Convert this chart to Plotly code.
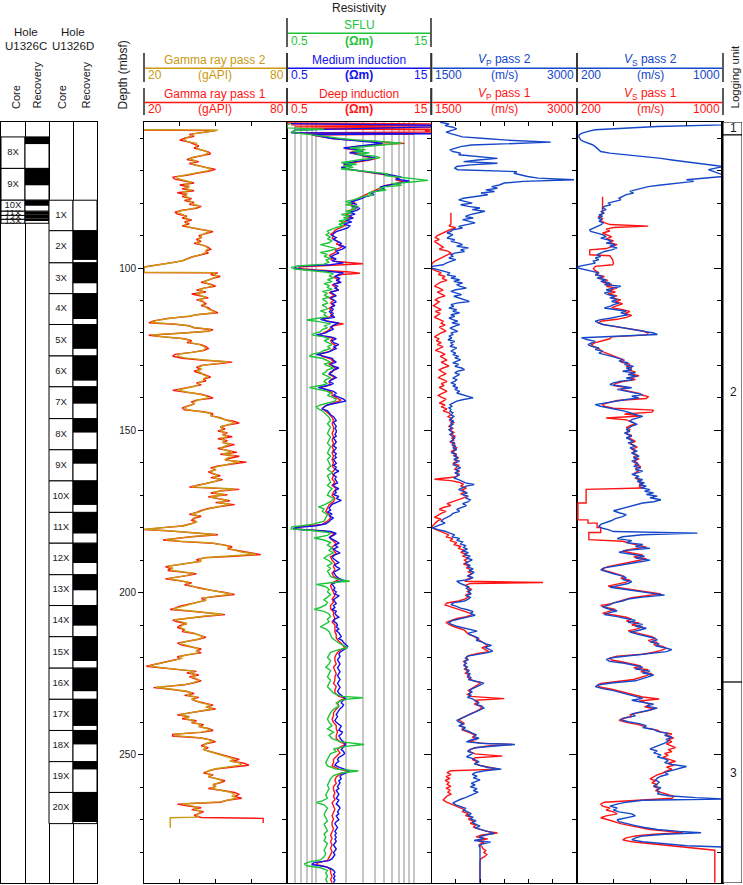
import plotly.graph_objects as go

# ---------------- DATA ----------------
DEPTH_RANGE = [289.5, 55]          # mbsf, top of log = 55, bottom = 289.5

# Hole U1326C cores: name, top, bottom (mbsf)
CORE_C_NAMES = ["8X", "9X", "10X", "11X", "12X", "13X"]
CORE_C_TOP = [59.6, 69.3, 79.1, 82.5, 83.8, 85.0]
CORE_C_BOT = [69.3, 79.1, 82.5, 83.8, 85.0, 86.2]
REC_C_TOP = [59.6, 69.3, 79.1, 82.6, 83.8, 85.0]
REC_C_BOT = [61.8, 74.5, 80.8, 83.6, 84.8, 85.4]

# Hole U1326D cores
CORE_D_NAMES = ["1X", "2X", "3X", "4X", "5X", "6X", "7X", "8X", "9X", "10X",
                "11X", "12X", "13X", "14X", "15X", "16X", "17X", "18X", "19X", "20X"]
CORE_D_TOP = [79.1, 88.5, 98.4, 107.9, 117.4, 127.1, 136.6, 146.4, 156.0, 165.6,
              175.3, 184.8, 194.5, 204.0, 213.6, 223.3, 232.9, 242.5, 252.1, 261.6]
CORE_D_BOT = [88.5, 98.4, 107.9, 117.4, 127.1, 136.6, 146.4, 156.0, 165.6, 175.3,
              184.8, 194.5, 204.0, 213.6, 223.3, 232.9, 242.5, 252.1, 261.6, 271.2]
REC_D_BOT = [79.1, 97.5, 104.7, 115.7, 124.9, 134.7, 141.8, 150.7, 160.3, 173.0,
             181.8, 190.9, 199.3, 210.2, 221.1, 230.4, 241.1, 246.8, 254.5, 270.7]

# Logging units
UNIT_NAMES = ["1", "2", "3"]
UNIT_TOP = [55.0, 59.0, 227.6]
UNIT_BOT = [59.0, 227.6, 289.5]
UNIT_LABEL_DEPTH = [57.0, 138.5, 256.0]

# Gamma ray (gAPI) : (depth, value)
GR_PASS1 = [(57.5,20),(57.6,50),(58.2,45),(58.8,39),(59.4,41),(60.0,37),(60.6,35),(61.2,39),(61.8,41),(62.4,43),(63.0,41),(63.6,44),(64.2,47),(64.8,48),(65.4,44),(66.0,40),(66.6,38),(67.2,43),(67.8,39),(68.4,42),(69.0,46),(69.6,50),(70.2,47),(70.8,42),(71.4,38),(72.0,32),(72.6,33),(73.2,37),(73.8,41),(74.4,35),(75.0,39),(75.6,36),(76.2,41),(76.8,34),(77.4,38),(78.0,36),(78.6,40),(79.2,37),(79.8,41),(80.4,39),(81.0,44),(81.6,42),(82.2,36),(82.8,33),(83.4,34),(84.0,38),(84.6,36),(85.2,40),(85.8,37),(86.4,39),(87.0,36),(87.6,40),(88.2,44),(88.8,49),(89.4,46),(90.0,43),(90.6,44),(91.2,42),(91.8,44),(92.4,41),(93.0,45),(93.6,47),(94.2,48),(94.8,46),(95.4,47),(96.0,43),(96.6,40),(97.2,38),(97.8,36),(98.4,31),(99.0,25),(99.7,20),(101.4,20),(101.5,51),(102.0,48),(102.6,52),(103.2,49),(103.8,46),(104.4,44),(105.0,48),(105.6,50),(106.2,45),(106.8,42),(107.4,46),(108.0,40),(108.6,44),(109.2,47),(109.8,42),(110.4,45),(111.0,46),(111.6,44),(112.2,47),(112.8,48),(113.4,50),(113.8,51),(114.4,42),(114.9,39),(115.5,30),(116.3,24),(116.9,22),(117.3,33),(117.8,39),(118.4,41),(119.0,49),(119.5,47),(120.1,35),(120.7,22),(121.2,28),(121.8,37),(122.4,40),(123.0,38),(123.6,44),(124.2,46),(124.8,47),(125.4,45),(126.0,40),(126.6,33),(127.2,32),(127.8,36),(128.4,45),(129.0,57),(129.4,52),(130.0,44),(130.6,42),(131.2,44),(131.8,41),(132.4,44),(133.0,46),(133.6,48),(134.2,45),(134.8,46),(135.4,42),(136.0,44),(136.6,40),(137.2,36),(137.7,32),(138.3,38),(138.9,44),(139.5,47),(140.1,49),(140.7,42),(141.3,40),(141.9,41),(142.5,38),(143.1,36),(143.7,37),(144.3,45),(144.9,49),(145.5,48),(146.1,52),(146.7,54),(147.3,58),(147.8,60),(148.4,55),(149.0,52),(149.6,54),(150.2,51),(150.8,55),(151.4,53),(152.0,57),(152.6,51),(153.2,55),(153.8,53),(154.4,58),(155.0,54),(155.6,51),(156.2,55),(156.8,59),(157.4,52),(158.0,60),(158.6,56),(159.2,54),(159.8,63),(160.4,56),(161.0,51),(161.6,48),(162.2,50),(162.8,47),(163.4,49),(164.0,52),(164.6,48),(165.2,53),(165.8,50),(166.4,46),(167.0,42),(167.5,39),(168.2,60),(168.7,52),(169.3,48),(169.9,55),(170.5,47),(171.1,52),(171.7,56),(172.3,50),(172.9,58),(173.5,52),(174.1,47),(174.7,44),(175.3,42),(175.9,39),(176.5,44),(177.1,41),(177.7,40),(178.3,42),(178.9,39),(179.5,36),(180.0,28),(180.6,20),(181.0,30),(181.7,45),(182.2,51),(182.8,40),(183.4,32),(183.8,28),(184.3,36),(184.8,49),(185.4,54),(185.9,57),(186.5,55),(187.0,59),(187.6,62),(188.3,69),(188.8,58),(189.3,45),(189.9,42),(190.4,44),(191.0,38),(191.5,33),(192.0,29),(192.6,31),(193.2,30),(193.7,36),(194.2,42),(194.8,38),(195.3,33),(195.8,29),(196.4,35),(197.0,40),(197.6,37),(198.2,41),(198.8,44),(199.4,49),(200.0,54),(200.6,58),(201.2,50),(201.8,44),(202.4,46),(203.0,42),(203.6,38),(204.2,35),(204.8,33),(205.2,31),(205.8,40),(206.3,48),(206.8,54),(207.4,45),(208.0,37),(208.5,32),(209.0,34),(209.6,38),(210.2,35),(210.8,34),(211.4,37),(212.0,36),(212.6,41),(213.2,44),(213.8,46),(214.4,43),(215.0,38),(215.6,34),(216.2,36),(216.8,40),(217.4,44),(218.0,42),(218.6,44),(219.2,38),(219.8,34),(220.4,35),(221.0,31),(221.6,27),(222.2,23),(222.7,21),(223.2,27),(223.8,34),(224.3,42),(224.8,38),(225.4,43),(226.0,39),(226.6,42),(227.2,44),(227.8,41),(228.4,37),(228.9,30),(229.3,24),(229.9,32),(230.5,38),(231.1,41),(231.7,37),(232.3,43),(232.9,40),(233.5,42),(234.1,45),(234.7,49),(235.3,46),(235.9,50),(236.5,44),(237.1,38),(237.7,34),(238.3,39),(238.9,36),(239.5,42),(240.1,40),(240.7,45),(241.3,43),(241.9,47),(242.5,49),(243.1,44),(243.7,32),(244.2,32),(244.8,44),(245.4,48),(246.0,50),(246.6,46),(247.2,44),(247.8,47),(248.4,45),(249.0,48),(249.6,51),(250.2,55),(250.8,58),(251.4,60),(252.0,57),(252.6,62),(253.2,64),(253.8,56),(254.4,50),(255.0,47),(255.6,45),(256.2,49),(256.8,47),(257.4,51),(258.0,54),(258.6,52),(259.2,49),(259.8,50),(260.4,47),(261.0,53),(261.6,58),(262.2,60),(262.8,58),(263.4,61),(264.0,55),(264.6,52),(265.2,34),(265.7,38),(266.3,44),(266.9,40),(267.5,45),(268.1,43),(268.7,41),(269.3,44),(269.6,70),(271.0,70)]

GR_PASS2 = [(57.4,20),(57.5,51),(58.0,47),(58.6,41),(59.2,40),(59.8,38),(60.4,37),(61.0,38),(61.6,42),(62.2,42),(62.8,42),(63.4,43),(64.0,46),(64.6,47),(65.2,45),(65.8,41),(66.4,39),(67.0,42),(67.6,40),(68.2,41),(68.8,45),(69.4,48),(70.0,47),(70.6,43),(71.2,39),(71.8,34),(72.4,34),(73.0,37),(73.6,40),(74.2,37),(74.8,39),(75.4,37),(76.0,40),(76.6,36),(77.2,38),(77.8,37),(78.4,39),(79.0,38),(79.6,40),(80.2,40),(80.8,43),(81.4,42),(82.0,38),(82.6,34),(83.2,35),(83.8,37),(84.4,37),(85.0,39),(85.6,38),(86.2,38),(86.8,37),(87.4,39),(88.0,43),(88.6,48),(89.2,46),(89.8,44),(90.4,44),(91.0,43),(91.6,43),(92.2,42),(92.8,44),(93.4,46),(94.0,47),(94.6,46),(95.2,46),(95.8,44),(96.4,41),(97.0,39),(97.6,37),(98.2,33),(98.8,27),(99.5,21),(99.7,20),(101.3,20),(101.4,50),(101.9,49),(102.5,51),(103.1,49),(103.7,47),(104.3,45),(104.9,47),(105.5,49),(106.1,46),(106.7,43),(107.3,45),(107.9,42),(108.5,44),(109.1,46),(109.7,43),(110.3,45),(110.9,45),(111.5,45),(112.1,46),(112.7,47),(113.3,49),(113.7,50),(114.3,43),(114.8,39),(115.4,32),(116.2,25),(116.8,23),(117.2,32),(117.7,38),(118.3,41),(118.9,48),(119.4,47),(120.0,37),(120.6,23),(121.1,27),(121.7,36),(122.3,39),(122.9,39),(123.5,43),(124.1,45),(124.7,46),(125.3,45),(125.9,41),(126.5,35),(127.1,34),(127.7,37),(128.3,45),(128.9,55),(129.3,52),(129.9,45),(130.5,43),(131.1,44),(131.7,42),(132.3,44),(132.9,45),(133.5,47),(134.1,45),(134.7,45),(135.3,43),(135.9,43),(136.5,41),(137.1,37),(137.6,34),(138.2,38),(138.8,43),(139.4,46),(140.0,47),(140.6,43),(141.2,41),(141.8,41),(142.4,39),(143.0,37),(143.6,38),(144.2,44),(144.8,48),(145.4,48),(146.0,51),(146.6,53),(147.2,56),(147.7,58),(148.3,55),(148.9,52),(149.5,53),(150.1,52),(150.7,54),(151.3,53),(151.9,55),(152.5,52),(153.1,54),(153.7,53),(154.3,56),(154.9,54),(155.5,52),(156.1,54),(156.7,57),(157.3,53),(157.9,58),(158.5,55),(159.1,54),(159.7,60),(160.3,56),(160.9,52),(161.5,49),(162.1,50),(162.7,48),(163.3,49),(163.9,51),(164.5,49),(165.1,52),(165.7,50),(166.3,47),(166.9,43),(167.4,40),(168.1,58),(168.6,53),(169.2,49),(169.8,54),(170.4,48),(171.0,51),(171.6,55),(172.2,51),(172.8,56),(173.4,52),(174.0,48),(174.6,45),(175.2,43),(175.8,40),(176.4,43),(177.0,41),(177.6,41),(178.2,42),(178.8,40),(179.4,37),(179.9,29),(180.5,20),(180.9,29),(181.6,44),(182.1,50),(182.7,41),(183.3,33),(183.7,29),(184.2,35),(184.7,48),(185.3,53),(185.8,56),(186.4,55),(186.9,58),(187.5,61),(188.2,67),(188.7,58),(189.2,46),(189.8,43),(190.3,44),(190.9,39),(191.4,34),(191.9,30),(192.5,32),(193.1,31),(193.6,36),(194.1,41),(194.7,38),(195.2,34),(195.7,30),(196.3,35),(196.9,39),(197.5,38),(198.1,41),(198.7,43),(199.3,48),(199.9,53),(200.5,57),(201.1,50),(201.7,45),(202.3,46),(202.9,43),(203.5,39),(204.1,36),(204.7,34),(205.1,32),(205.7,40),(206.2,47),(206.7,53),(207.3,45),(207.9,38),(208.4,33),(208.9,35),(209.5,38),(210.1,36),(210.7,35),(211.3,37),(211.9,37),(212.5,41),(213.1,43),(213.7,45),(214.3,43),(214.9,39),(215.5,35),(216.1,37),(216.7,40),(217.3,43),(217.9,42),(218.5,43),(219.1,39),(219.7,35),(220.3,36),(220.9,32),(221.5,28),(222.1,24),(222.6,22),(223.1,27),(223.7,34),(224.2,41),(224.7,39),(225.3,42),(225.9,40),(226.5,42),(227.1,43),(227.7,41),(228.3,38),(228.8,31),(229.2,25),(229.8,32),(230.4,38),(231.0,40),(231.6,38),(232.2,42),(232.8,40),(233.4,42),(234.0,44),(234.6,48),(235.2,46),(235.8,49),(236.4,44),(237.0,39),(237.6,35),(238.2,39),(238.8,37),(239.4,41),(240.0,40),(240.6,44),(241.2,43),(241.8,46),(242.4,48),(243.0,44),(243.6,33),(244.1,33),(244.7,43),(245.3,47),(245.9,49),(246.5,46),(247.1,45),(247.7,46),(248.3,45),(248.9,47),(249.5,50),(250.1,53),(250.7,56),(251.3,58),(251.9,56),(252.5,60),(253.1,61),(253.7,55),(254.3,50),(254.9,47),(255.5,46),(256.1,48),(256.7,47),(257.3,50),(257.9,53),(258.5,52),(259.1,49),(259.7,50),(260.3,48),(260.9,52),(261.5,56),(262.1,58),(262.7,57),(263.3,59),(263.9,55),(264.5,52),(265.1,36),(265.6,39),(266.2,43),(266.8,41),(267.4,44),(268.0,43),(268.6,42),(269.2,43),(269.4,31),(272.5,31)]

# Resistivity (Ohm m)
RES_DEEP = [(55.3,0.5),(55.6,15),(55.9,0.55),(56.2,15),(56.5,0.6),(56.8,15),(57.1,0.7),(57.4,15),(57.8,13),(58.1,15),(58.4,0.6),(58.7,10),(59.0,0.9),(59.6,1.2),(60.2,1.5),(60.8,3.0),(61.2,5.5),(61.6,8.0),(62.0,4.0),(62.6,2.4),(63.2,2.0),(63.8,2.8),(64.4,2.2),(65.0,3.0),(65.6,3.0),(66.2,4.2),(66.8,3.4),(67.4,2.4),(68.0,1.9),(68.6,2.1),(69.2,1.8),(69.8,2.4),(70.4,3.4),(71.0,4.8),(71.6,6.0),(72.2,7.0),(72.8,6.5),(73.4,8.0),(74.0,6.0),(74.6,5.0),(75.2,4.6),(75.8,4.2),(76.4,3.8),(77.0,3.5),(77.6,3.1),(78.2,2.8),(78.8,2.6),(79.4,2.3),(80.0,2.5),(80.6,2.2),(81.2,2.6),(81.8,2.5),(82.4,2.1),(83.0,2.3),(83.6,2.0),(84.2,2.3),(84.8,2.0),(85.4,2.1),(86.0,1.8),(86.6,2.0),(87.2,1.9),(87.8,1.7),(88.4,1.55),(89.0,1.5),(89.6,1.4),(90.2,1.5),(90.8,1.45),(91.4,1.55),(92.0,1.7),(92.6,1.6),(93.2,1.9),(93.8,1.75),(94.4,1.55),(95.0,1.6),(95.6,1.45),(96.2,1.35),(96.8,1.5),(97.4,1.4),(98.0,1.6),(98.7,3.0),(99.2,1.3),(99.6,0.7),(100.1,0.65),(100.6,1.0),(101.2,2.2),(101.6,2.8),(102.0,1.8),(102.8,1.5),(103.6,1.7),(104.4,1.7),(105.2,1.45),(106.0,1.6),(106.8,1.65),(107.6,1.35),(108.4,1.55),(109.2,1.35),(110.0,1.5),(110.8,1.4),(111.6,1.5),(112.4,1.35),(113.2,1.45),(114.0,1.4),(114.8,1.5),(115.6,1.15),(116.4,1.3),(117.2,1.9),(117.8,1.5),(118.6,1.4),(119.4,1.3),(120.2,1.15),(120.8,1.05),(121.6,1.5),(122.4,1.4),(123.2,1.45),(124.0,1.6),(124.8,1.5),(125.6,1.4),(126.4,1.1),(127.2,1.15),(128.0,1.4),(128.8,1.5),(129.6,1.35),(130.4,1.5),(131.2,1.6),(132.0,1.4),(132.8,1.35),(133.6,1.55),(134.4,1.4),(135.2,1.35),(136.0,1.4),(136.8,1.1),(137.6,1.3),(138.4,1.45),(139.2,1.45),(140.0,1.6),(140.8,1.8),(141.6,1.5),(142.4,1.25),(143.2,1.15),(144.0,1.25),(145.0,1.35),(146.0,1.45),(147.0,1.5),(148.0,1.45),(149.0,1.5),(150.0,1.5),(151.0,1.45),(152.0,1.5),(153.0,1.45),(154.0,1.5),(155.0,1.45),(156.0,1.5),(157.0,1.45),(158.0,1.5),(159.0,1.45),(160.0,1.5),(161.0,1.45),(162.0,1.55),(163.0,1.45),(164.0,1.5),(165.0,1.45),(166.0,1.55),(167.0,1.45),(168.0,1.6),(169.0,1.5),(170.0,1.45),(171.0,1.55),(172.0,1.5),(173.0,1.35),(174.0,1.3),(175.0,1.25),(176.0,1.35),(177.0,1.4),(178.0,1.3),(179.0,1.15),(179.8,0.65),(180.4,0.6),(181.0,1.2),(181.8,1.55),(182.6,1.4),(183.4,1.4),(184.2,1.5),(185.0,1.6),(186.0,1.45),(187.0,1.5),(188.0,1.6),(189.0,1.4),(190.0,1.45),(191.0,1.55),(192.0,1.5),(193.0,1.55),(194.0,1.45),(195.0,1.5),(196.0,1.7),(197.0,1.45),(198.0,1.4),(199.0,1.45),(200.0,1.5),(201.0,1.55),(202.0,1.45),(203.0,1.5),(204.0,1.4),(205.0,1.4),(206.0,1.5),(207.0,1.5),(208.0,1.55),(209.0,1.45),(210.0,1.55),(211.0,1.55),(212.0,1.55),(213.0,1.6),(214.0,1.6),(215.0,1.7),(216.0,1.85),(217.0,1.95),(218.0,1.7),(219.0,1.6),(220.0,1.55),(221.0,1.55),(222.0,1.6),(223.0,1.5),(224.0,1.55),(225.0,1.6),(226.0,1.55),(227.0,1.55),(228.0,1.5),(229.0,1.6),(230.0,1.55),(231.0,1.55),(232.0,1.7),(232.6,2.0),(233.2,1.75),(234.0,1.65),(235.0,1.7),(236.0,1.6),(237.0,1.5),(238.0,1.5),(239.0,1.45),(240.0,1.5),(241.0,1.6),(242.0,1.6),(243.0,1.65),(244.0,1.6),(245.0,1.6),(246.0,1.75),(246.8,2.0),(247.6,1.75),(248.4,1.65),(249.4,1.75),(250.4,1.6),(251.4,1.5),(252.4,1.5),(253.4,1.45),(254.4,1.7),(255.0,2.1),(255.8,1.8),(256.8,1.6),(257.8,1.55),(258.8,1.6),(259.8,1.5),(260.8,1.5),(261.8,1.55),(262.8,1.5),(263.8,1.55),(264.8,1.45),(265.8,1.5),(266.8,1.55),(267.8,1.5),(268.8,1.45),(269.8,1.5),(270.8,1.45),(271.8,1.45),(272.8,1.5),(273.8,1.45),(274.8,1.4),(275.8,1.45),(276.8,1.4),(277.8,1.45),(278.8,1.4),(279.8,1.45),(280.8,1.4),(281.8,1.35),(282.6,1.3),(283.2,1.05),(283.8,1.0),(284.6,1.3),(285.4,1.4),(286.4,1.4),(287.4,1.45),(288.4,1.4),(289.4,1.45)]

RES_MEDIUM = [(55.5,0.55),(56.0,15),(56.5,15),(57.0,2),(57.5,0.6),(58.3,0.55),(58.6,15),(58.9,0.9),(59.5,1.1),(60.0,1.4),(60.5,2.0),(61.0,3.4),(61.5,4.8),(62.0,3.6),(62.5,2.6),(63.0,1.9),(63.5,2.6),(64.0,3.0),(64.5,2.2),(65.0,2.8),(65.5,3.2),(66.0,4.0),(66.6,3.6),(67.2,2.5),(67.8,1.9),(68.4,2.3),(69.0,1.8),(69.6,2.2),(70.2,3.2),(70.8,4.5),(71.4,6.0),(72.0,7.5),(72.6,6.5),(73.2,9.0),(73.8,7.0),(74.4,5.5),(75.0,4.5),(75.6,5.0),(76.2,4.2),(76.8,3.6),(77.4,3.9),(78.0,3.2),(78.6,2.9),(79.2,2.5),(79.8,2.2),(80.4,2.6),(81.0,2.3),(81.6,2.8),(82.2,2.6),(82.8,2.2),(83.4,2.5),(84.0,2.1),(84.6,2.4),(85.2,2.0),(85.8,2.3),(86.4,1.9),(87.0,2.2),(87.6,2.1),(88.2,1.8),(88.8,1.6),(89.4,1.5),(90.0,1.45),(90.6,1.6),(91.2,1.5),(91.8,1.65),(92.4,1.8),(93.0,1.7),(93.6,2.0),(94.2,1.85),(94.8,1.6),(95.4,1.7),(96.0,1.5),(96.6,1.4),(97.2,1.6),(97.8,1.45),(98.4,1.9),(99.0,1.4),(99.5,0.62),(100.0,0.6),(100.5,0.75),(101.0,1.3),(101.5,1.9),(102.0,1.7),(102.6,1.55),(103.2,1.75),(103.8,1.6),(104.4,1.8),(105.0,1.5),(105.6,1.65),(106.2,1.55),(106.8,1.7),(107.4,1.4),(108.0,1.5),(108.6,1.6),(109.2,1.4),(109.8,1.5),(110.4,1.6),(111.0,1.45),(111.6,1.55),(112.2,1.4),(112.8,1.5),(113.4,1.35),(114.0,1.5),(114.6,1.4),(115.2,1.55),(115.8,1.1),(116.4,1.3),(117.0,1.7),(117.6,1.5),(118.2,1.4),(118.8,1.5),(119.4,1.35),(120.0,1.25),(120.6,1.0),(121.2,1.4),(121.8,1.6),(122.4,1.45),(123.0,1.5),(123.6,1.7),(124.2,1.5),(124.8,1.6),(125.4,1.45),(126.0,1.3),(126.6,1.0),(127.2,1.2),(127.8,1.45),(128.4,1.5),(129.0,1.6),(129.6,1.4),(130.2,1.5),(130.8,1.7),(131.4,1.5),(132.0,1.45),(132.6,1.35),(133.2,1.5),(133.8,1.6),(134.4,1.45),(135.0,1.35),(135.6,1.5),(136.2,1.3),(136.8,1.05),(137.4,1.3),(138.0,1.5),(138.6,1.6),(139.2,1.5),(139.8,1.7),(140.4,1.9),(141.0,2.0),(141.6,1.6),(142.2,1.3),(142.8,1.2),(143.4,1.15),(144.0,1.3),(144.6,1.35),(145.2,1.4),(145.8,1.5),(146.4,1.55),(147.0,1.6),(147.6,1.5),(148.2,1.55),(148.8,1.6),(149.4,1.55),(150.0,1.6),(150.6,1.6),(151.2,1.55),(151.8,1.6),(152.4,1.5),(153.0,1.55),(153.6,1.6),(154.2,1.55),(154.8,1.5),(155.4,1.6),(156.0,1.55),(156.6,1.5),(157.2,1.6),(157.8,1.55),(158.4,1.6),(159.0,1.5),(159.6,1.55),(160.2,1.6),(160.8,1.5),(161.4,1.6),(162.0,1.55),(162.6,1.7),(163.2,1.55),(163.8,1.5),(164.4,1.6),(165.0,1.55),(165.6,1.6),(166.2,1.65),(166.8,1.5),(167.4,1.55),(168.0,1.7),(168.6,1.55),(169.2,1.6),(169.8,1.5),(170.4,1.7),(171.0,1.6),(171.6,1.8),(172.2,1.6),(172.8,1.45),(173.4,1.4),(174.0,1.35),(174.6,1.4),(175.2,1.3),(175.8,1.45),(176.4,1.35),(177.0,1.5),(177.6,1.4),(178.2,1.35),(178.8,1.25),(179.4,1.0),(180.0,0.6),(180.4,0.58),(180.8,1.0),(181.2,1.4),(181.8,1.6),(182.4,1.5),(183.0,1.35),(183.6,1.5),(184.2,1.6),(184.8,1.7),(185.4,1.55),(186.0,1.65),(186.6,1.5),(187.2,1.6),(187.8,1.75),(188.4,1.55),(189.0,1.45),(189.6,1.5),(190.2,1.6),(190.8,1.7),(191.4,1.55),(192.0,1.6),(192.6,1.75),(193.2,1.6),(193.8,1.5),(194.4,1.55),(195.0,1.6),(195.6,1.7),(196.2,1.9),(196.8,1.6),(197.4,1.45),(198.0,1.5),(198.6,1.55),(199.2,1.5),(199.8,1.6),(200.4,1.55),(201.0,1.7),(201.6,1.6),(202.2,1.5),(202.8,1.55),(203.4,1.6),(204.0,1.5),(204.6,1.55),(205.2,1.45),(205.8,1.6),(206.4,1.55),(207.0,1.6),(207.6,1.7),(208.2,1.55),(208.8,1.5),(209.4,1.6),(210.0,1.65),(210.6,1.6),(211.2,1.7),(211.8,1.6),(212.4,1.7),(213.0,1.75),(213.6,1.8),(214.2,1.7),(214.8,1.85),(215.4,1.9),(216.0,2.0),(216.6,2.1),(217.2,2.0),(217.8,1.85),(218.4,1.75),(219.0,1.7),(219.6,1.75),(220.2,1.7),(220.8,1.65),(221.4,1.7),(222.0,1.75),(222.6,1.7),(223.2,1.65),(223.8,1.7),(224.4,1.75),(225.0,1.7),(225.6,1.65),(226.2,1.7),(226.8,1.75),(227.4,1.7),(228.0,1.65),(228.6,1.7),(229.2,1.75),(229.8,1.7),(230.4,1.65),(231.0,1.7),(231.6,1.8),(232.2,1.9),(232.8,2.0),(233.4,1.85),(234.0,1.8),(234.6,1.9),(235.2,1.85),(235.8,1.75),(236.4,1.7),(237.0,1.65),(237.6,1.6),(238.2,1.65),(238.8,1.6),(239.4,1.55),(240.0,1.6),(240.6,1.7),(241.2,1.8),(241.8,1.75),(242.4,1.7),(243.0,1.85),(243.6,1.8),(244.2,1.7),(244.8,1.75),(245.4,1.8),(246.0,1.9),(246.6,2.0),(247.2,1.95),(247.8,1.85),(248.4,1.8),(249.0,1.9),(249.6,1.95),(250.2,1.85),(250.8,1.7),(251.4,1.65),(252.0,1.7),(252.6,1.6),(253.2,1.55),(253.8,1.7),(254.4,1.9),(255.0,2.2),(255.6,2.0),(256.2,1.8),(256.8,1.75),(257.4,1.8),(258.0,1.7),(258.6,1.75),(259.2,1.7),(259.8,1.65),(260.4,1.7),(261.0,1.6),(261.6,1.65),(262.2,1.7),(262.8,1.65),(263.4,1.6),(264.0,1.7),(264.6,1.65),(265.2,1.6),(265.8,1.7),(266.4,1.75),(267.0,1.7),(267.6,1.65),(268.2,1.7),(268.8,1.6),(269.4,1.65),(270.0,1.7),(270.6,1.6),(271.2,1.55),(271.8,1.6),(272.4,1.65),(273.0,1.6),(273.6,1.55),(274.2,1.6),(274.8,1.55),(275.4,1.6),(276.0,1.55),(276.6,1.6),(277.2,1.55),(277.8,1.5),(278.4,1.55),(279.0,1.6),(279.6,1.55),(280.2,1.5),(280.8,1.55),(281.4,1.5),(282.0,1.45),(282.6,1.35),(283.2,0.95),(283.8,0.9),(284.4,1.2),(285.0,1.4),(285.6,1.5),(286.2,1.55),(286.8,1.5),(287.4,1.55),(288.0,1.5),(288.6,1.55),(289.4,1.5)]

RES_SFLU = [(55.5,0.55),(55.8,0.5),(56.8,0.5),(57.2,1.2),(57.6,0.6),(58.2,0.55),(58.6,0.7),(59.0,1.0),(59.5,1.3),(60.0,1.7),(60.5,2.5),(61.0,4.5),(61.5,7.5),(62.0,5.0),(62.5,3.0),(63.0,2.2),(63.5,3.2),(64.0,2.4),(64.5,3.5),(65.0,2.6),(65.5,4.0),(66.0,4.5),(66.5,3.0),(67.0,2.2),(67.5,1.8),(68.0,2.6),(68.5,1.9),(69.0,2.4),(69.5,1.8),(70.0,2.8),(70.5,4.0),(71.0,5.5),(71.5,5.0),(72.0,7.0),(72.5,9.0),(73.0,14.0),(73.5,9.5),(74.0,6.0),(74.5,7.5),(75.0,5.0),(75.5,4.4),(76.0,5.2),(76.5,3.8),(77.0,3.4),(77.5,3.8),(78.0,3.0),(78.5,2.7),(79.0,2.4),(79.5,2.0),(80.0,2.3),(80.5,2.0),(81.0,2.7),(81.5,2.3),(82.0,2.5),(82.5,2.0),(83.0,2.3),(83.5,1.8),(84.0,2.2),(84.5,1.9),(85.0,2.1),(85.5,1.7),(86.0,2.0),(86.5,1.7),(87.0,1.9),(87.5,1.6),(88.0,1.45),(88.6,1.3),(89.2,1.35),(89.8,1.25),(90.4,1.4),(91.0,1.3),(91.6,1.45),(92.2,1.35),(92.8,1.1),(93.4,1.3),(94.0,1.6),(94.6,1.4),(95.2,1.1),(95.8,1.3),(96.4,1.2),(97.0,1.4),(97.6,1.25),(98.2,1.35),(98.8,1.2),(99.3,0.7),(99.8,0.55),(100.3,0.6),(100.8,0.9),(101.3,1.3),(101.8,1.5),(102.4,1.35),(103.0,1.5),(103.6,1.3),(104.2,1.45),(104.8,1.2),(105.4,1.35),(106.0,1.3),(106.6,1.45),(107.2,1.15),(107.8,1.3),(108.4,1.2),(109.0,1.35),(109.6,1.15),(110.2,1.25),(110.8,1.3),(111.4,1.15),(112.0,1.25),(112.6,1.3),(113.2,1.1),(113.8,1.25),(114.4,1.2),(115.0,1.3),(115.6,0.95),(116.0,0.8),(116.6,1.1),(117.2,1.4),(117.8,1.2),(118.4,1.3),(119.0,1.15),(119.6,1.1),(120.2,0.95),(120.6,0.9),(121.2,1.2),(121.8,1.35),(122.4,1.2),(123.0,1.3),(123.6,1.45),(124.2,1.3),(124.8,1.4),(125.4,1.2),(126.0,1.1),(126.6,0.9),(127.2,0.85),(127.8,1.15),(128.4,1.3),(129.0,1.4),(129.6,1.2),(130.2,1.35),(130.8,1.5),(131.4,1.3),(132.0,1.25),(132.6,1.15),(133.2,1.3),(133.8,1.4),(134.4,1.25),(135.0,1.2),(135.6,1.3),(136.2,1.1),(136.8,0.85),(137.4,1.1),(138.0,1.3),(138.6,1.4),(139.2,1.3),(139.8,1.45),(140.4,1.6),(141.0,1.55),(141.6,1.3),(142.2,1.1),(142.8,1.0),(143.4,1.05),(144.0,1.15),(145.0,1.25),(146.0,1.35),(147.0,1.4),(148.0,1.3),(149.0,1.4),(150.0,1.35),(151.0,1.3),(152.0,1.4),(153.0,1.35),(154.0,1.3),(155.0,1.4),(156.0,1.35),(157.0,1.3),(158.0,1.4),(159.0,1.3),(160.0,1.35),(161.0,1.4),(162.0,1.3),(163.0,1.45),(164.0,1.3),(165.0,1.35),(166.0,1.4),(167.0,1.3),(168.0,1.45),(169.0,1.35),(170.0,1.3),(171.0,1.5),(172.0,1.4),(173.0,1.2),(173.6,1.05),(174.2,1.2),(175.0,1.15),(176.0,1.3),(177.0,1.25),(178.0,1.2),(179.0,0.9),(179.8,0.56),(180.4,0.55),(180.9,0.9),(181.6,1.4),(182.4,1.3),(183.2,0.95),(183.8,1.2),(184.6,1.4),(185.4,1.3),(186.2,1.45),(187.0,1.35),(187.8,1.5),(188.6,1.3),(189.4,1.2),(190.2,1.35),(191.0,1.45),(191.8,1.3),(192.6,1.4),(193.4,1.3),(194.2,1.35),(195.0,1.4),(195.8,1.6),(196.5,2.2),(197.0,1.4),(197.5,1.0),(198.2,1.25),(199.0,1.35),(199.8,1.3),(200.6,1.4),(201.4,1.3),(202.2,1.2),(203.0,1.3),(203.8,1.25),(204.6,1.1),(205.2,0.95),(205.8,1.2),(206.6,1.35),(207.4,1.4),(208.2,1.3),(209.0,1.35),(209.8,1.2),(210.6,1.1),(211.2,1.25),(212.0,1.35),(213.0,1.4),(214.0,1.45),(215.0,1.6),(216.0,1.8),(217.0,2.1),(217.6,1.7),(218.4,1.4),(219.2,1.35),(220.0,1.3),(221.0,1.4),(222.0,1.35),(223.0,1.25),(224.0,1.4),(225.0,1.35),(226.0,1.3),(227.0,1.4),(228.0,1.35),(229.0,1.3),(230.0,1.4),(231.0,1.5),(232.0,1.8),(232.4,3.0),(233.0,1.9),(234.0,1.6),(235.0,1.7),(236.0,1.5),(237.0,1.4),(238.0,1.35),(239.0,1.3),(240.0,1.35),(241.0,1.45),(242.0,1.3),(243.0,1.5),(244.0,1.35),(245.0,1.45),(246.0,1.8),(246.8,3.1),(247.4,2.0),(248.2,1.5),(249.0,1.6),(249.6,1.4),(250.4,1.35),(251.4,1.3),(252.4,1.25),(253.4,1.3),(254.4,1.6),(255.0,2.7),(255.6,1.8),(256.4,1.5),(257.4,1.4),(258.4,1.35),(259.4,1.3),(260.4,1.35),(261.4,1.3),(262.4,1.25),(263.4,1.3),(264.2,1.15),(264.7,1.0),(265.4,1.2),(266.4,1.3),(267.4,1.25),(268.4,1.2),(269.4,1.25),(270.4,1.3),(271.4,1.2),(272.4,1.25),(273.4,1.3),(274.4,1.2),(275.4,1.25),(276.4,1.2),(277.4,1.3),(278.4,1.25),(279.4,1.2),(280.4,1.25),(281.4,1.2),(282.4,1.1),(283.0,0.85),(283.6,0.75),(284.2,0.8),(284.8,1.1),(285.6,1.3),(286.4,1.25),(287.4,1.3),(288.4,1.25),(289.4,1.3)]

# P-wave velocity (m/s)
VP_PASS2 = [(55.1,1590),(55.6,1680),(56.1,1640),(56.6,1720),(57.1,1760),(57.6,1690),(58.1,1650),(58.6,1700),(59.1,1750),(59.6,1820),(60.1,2050),(60.6,2280),(61.2,2730),(61.7,2350),(62.1,1910),(62.6,1800),(63.1,1740),(63.6,1690),(64.1,1720),(64.6,1800),(65.1,1780),(65.6,1950),(66.2,2180),(66.7,1980),(67.2,1830),(67.7,2180),(68.2,1900),(68.7,1760),(69.2,1740),(69.7,1770),(70.3,2380),(70.8,2350),(71.3,2420),(71.8,2490),(72.3,2600),(72.8,2970),(73.3,2450),(73.8,2250),(74.4,2200),(74.9,2120),(75.4,2180),(75.9,2060),(76.4,2150),(76.9,2010),(77.4,2080),(77.9,1950),(78.5,1830),(79.0,1780),(79.5,1870),(80.0,1920),(80.5,1800),(81.0,1880),(81.5,2000),(82.0,1920),(82.5,2050),(83.1,1960),(83.6,1890),(84.1,1850),(84.6,1930),(85.1,1820),(85.6,1890),(86.1,1950),(86.7,1850),(87.2,1780),(87.7,1820),(88.2,1720),(88.7,1700),(89.2,1660),(89.7,1720),(90.3,1690),(90.8,1660),(91.3,1740),(91.8,1700),(92.3,1780),(92.8,1820),(93.3,1760),(93.8,1880),(94.4,1800),(94.9,1840),(95.4,1740),(95.9,1700),(96.4,1720),(96.9,1680),(97.4,1750),(97.9,1700),(98.5,1650),(99.0,1620),(99.5,1510),(100.0,1500),(100.5,1560),(101.0,1640),(101.5,1690),(102.1,1660),(102.6,1750),(103.1,1700),(103.6,1790),(104.1,1730),(104.6,1820),(105.1,1760),(105.6,1790),(106.2,1860),(106.7,1750),(107.2,1700),(107.7,1760),(108.2,1810),(108.7,1730),(109.2,1780),(109.7,1820),(110.3,1890),(110.8,1760),(111.3,1700),(111.8,1730),(112.3,1680),(112.8,1760),(113.3,1720),(113.8,1790),(114.4,1700),(114.9,1740),(115.4,1680),(115.9,1720),(116.4,1770),(116.9,1710),(117.4,1790),(117.9,1740),(118.5,1690),(119.0,1730),(119.5,1770),(120.0,1700),(120.5,1720),(121.0,1680),(121.5,1710),(122.1,1670),(122.6,1740),(123.1,1700),(123.6,1720),(124.1,1690),(124.6,1760),(125.1,1730),(125.6,1700),(126.2,1750),(126.7,1720),(127.2,1780),(127.7,1740),(128.2,1800),(128.7,1760),(129.2,1720),(129.7,1780),(130.3,1740),(130.8,1810),(131.3,1840),(131.8,1770),(132.3,1740),(132.8,1790),(133.3,1750),(133.9,1720),(134.4,1760),(134.9,1740),(135.4,1700),(135.9,1750),(136.4,1720),(136.9,1770),(137.4,1740),(138.0,1790),(138.5,1760),(139.0,1820),(139.5,1870),(140.0,1930),(140.5,1830),(141.0,1760),(141.6,1720),(142.1,1690),(142.6,1710),(143.1,1680),(143.6,1700),(144.1,1690),(144.6,1720),(145.2,1700),(145.7,1730),(146.2,1710),(146.7,1690),(147.2,1730),(147.7,1700),(148.2,1720),(148.7,1690),(149.3,1710),(149.8,1680),(150.3,1700),(150.8,1720),(151.3,1690),(151.8,1710),(152.3,1740),(152.9,1720),(153.4,1700),(153.9,1740),(154.4,1710),(154.9,1750),(155.4,1720),(155.9,1760),(156.4,1730),(157.0,1710),(157.5,1760),(158.0,1740),(158.5,1770),(159.0,1730),(159.5,1790),(160.0,1750),(160.6,1720),(161.1,1770),(161.6,1800),(162.1,1750),(162.6,1780),(163.1,1740),(163.6,1790),(164.2,1760),(164.7,1730),(165.2,1780),(165.7,1820),(166.2,1850),(166.7,1940),(167.2,1860),(167.7,1820),(168.3,1780),(168.8,1830),(169.3,1870),(169.8,1820),(170.3,1880),(170.8,1850),(171.4,1900),(172.0,1880),(172.6,1820),(173.2,1860),(173.8,1800),(174.4,1760),(175.0,1790),(175.6,1720),(176.2,1700),(176.8,1660),(177.4,1620),(178.0,1600),(178.6,1640),(179.2,1580),(179.7,1530),(180.1,1510),(180.6,1570),(181.1,1640),(181.7,1690),(182.2,1740),(182.8,1710),(183.3,1790),(183.9,1760),(184.4,1820),(185.0,1800),(185.5,1850),(186.1,1830),(186.6,1870),(187.2,1820),(187.7,1880),(188.3,1840),(188.8,1900),(189.4,1860),(189.9,1920),(190.5,1880),(191.0,1850),(191.6,1900),(192.1,1870),(192.7,1930),(193.2,1890),(193.8,1940),(194.3,1900),(194.9,1870),(195.4,1930),(196.0,1880),(196.5,1760),(197.1,1790),(197.6,1830),(198.2,1880),(198.7,1860),(199.3,1900),(199.8,1880),(200.4,1910),(200.9,1860),(201.5,1900),(202.0,1880),(202.6,1840),(203.1,1730),(203.7,1700),(204.2,1750),(204.8,1800),(205.3,1870),(205.9,1930),(206.4,1900),(207.0,1950),(207.5,1880),(208.1,1780),(208.6,1720),(209.2,1680),(209.7,1700),(210.3,1750),(210.8,1820),(211.4,1900),(211.9,1970),(212.5,1880),(213.0,1900),(213.6,1950),(214.1,1990),(214.7,1960),(215.2,2020),(215.8,2060),(216.3,2120),(216.9,2050),(217.4,2090),(218.0,2130),(218.5,2080),(219.1,1960),(219.6,1870),(220.2,1850),(220.7,1880),(221.3,1840),(221.8,1860),(222.4,1830),(222.9,1870),(223.5,1850),(224.0,1890),(224.6,1860),(225.1,1900),(225.7,1870),(226.2,1910),(226.8,1880),(227.3,1950),(227.9,2040),(228.4,2010),(229.0,1960),(229.5,1930),(230.1,1890),(230.6,1920),(231.2,1880),(231.7,1910),(232.3,1870),(232.8,1930),(233.4,1950),(233.9,1990),(234.5,1960),(235.0,2020),(235.6,2040),(236.1,2010),(236.7,1960),(237.2,1920),(237.8,1880),(238.3,1830),(238.9,1800),(239.4,1760),(240.0,1790),(240.5,1830),(241.1,1780),(241.6,1850),(242.2,1820),(242.7,1880),(243.3,1920),(243.8,1960),(244.4,1940),(244.9,1990),(245.5,1900),(246.0,1860),(246.5,2050),(246.8,2360),(247.3,2150),(247.8,1950),(248.4,1900),(248.9,1870),(249.5,1930),(250.0,1890),(250.6,1860),(251.1,1920),(251.7,1960),(252.2,1990),(252.8,1940),(253.3,2010),(253.9,2080),(254.4,2220),(254.9,2050),(255.5,1950),(256.0,1920),(256.6,1970),(257.1,1930),(257.7,2000),(258.2,1960),(258.8,1910),(259.3,1950),(259.9,1900),(260.4,1970),(261.0,1930),(261.5,1980),(262.1,1940),(262.6,1890),(263.2,1850),(263.7,1800),(264.3,1760),(264.8,1720),(265.4,1750),(265.9,1800),(266.5,1850),(267.0,1830),(267.6,1880),(268.1,1910),(268.7,1870),(269.2,1930),(269.8,1900),(270.3,1960),(270.9,1920),(271.4,1960),(272.0,2000),(272.5,1950),(273.1,2020),(273.6,2080),(274.2,2150),(274.7,2060),(275.3,1990),(275.8,2040),(276.4,1940),(276.9,2110),(277.5,2020),(278.0,1990),(278.6,2000),(289.4,2000)]

VP_PASS1 = [(83.0,1700),(86.5,1700),(87.0,1680),(87.6,1750),(88.2,1690),(88.8,1650),(89.4,1600),(90.0,1560),(90.6,1540),(91.2,1580),(91.8,1530),(92.4,1560),(93.0,1600),(93.6,1620),(94.2,1580),(94.8,1670),(95.4,1700),(96.0,1660),(96.6,1610),(97.2,1580),(97.8,1540),(98.4,1510),(99.0,1500),(99.6,1495),(100.2,1500),(100.8,1540),(101.4,1600),(102.0,1570),(102.6,1640),(103.2,1610),(103.8,1660),(104.4,1590),(105.0,1560),(105.6,1530),(106.2,1580),(106.8,1620),(107.4,1560),(108.0,1600),(108.6,1640),(109.2,1570),(109.8,1540),(110.4,1580),(111.0,1550),(111.6,1520),(112.2,1560),(112.8,1600),(113.4,1540),(114.0,1590),(114.6,1560),(115.2,1530),(115.8,1580),(116.4,1620),(117.0,1600),(117.6,1640),(118.2,1580),(118.8,1620),(119.4,1650),(120.0,1600),(120.6,1560),(121.2,1530),(121.8,1580),(122.4,1550),(123.0,1600),(123.6,1560),(124.2,1620),(124.8,1580),(125.4,1540),(126.0,1600),(126.6,1640),(127.2,1590),(127.8,1620),(128.4,1660),(129.0,1600),(129.6,1640),(130.2,1680),(130.8,1620),(131.4,1580),(132.0,1610),(132.6,1650),(133.2,1600),(133.8,1570),(134.4,1620),(135.0,1660),(135.6,1600),(136.2,1630),(136.8,1580),(137.4,1620),(138.0,1660),(138.6,1610),(139.2,1570),(139.8,1600),(140.4,1650),(141.0,1620),(141.6,1580),(142.2,1640),(142.8,1600),(143.4,1660),(144.0,1620),(144.6,1680),(145.2,1700),(145.8,1670),(146.4,1710),(147.0,1690),(147.6,1730),(148.2,1700),(148.8,1680),(149.4,1720),(150.0,1690),(150.6,1730),(151.2,1700),(151.8,1740),(152.4,1710),(153.0,1730),(153.6,1690),(154.2,1740),(154.8,1720),(155.4,1760),(156.0,1730),(156.6,1700),(157.2,1750),(157.8,1730),(158.4,1780),(159.0,1740),(159.6,1760),(160.2,1720),(160.8,1780),(161.4,1760),(162.0,1740),(162.6,1790),(163.2,1750),(163.8,1780),(164.4,1740),(165.1,1530),(165.5,1700),(166.0,1780),(166.6,1830),(167.2,1800),(167.8,1860),(168.4,1810),(169.0,1850),(169.6,1800),(170.2,1860),(170.8,1830),(171.4,1780),(172.0,1720),(172.6,1660),(173.2,1700),(173.8,1620),(174.4,1580),(175.0,1650),(175.6,1600),(176.2,1560),(176.8,1530),(177.4,1600),(178.0,1560),(178.6,1540),(179.2,1520),(179.8,1500),(180.4,1530),(181.0,1580),(181.6,1620),(182.2,1680),(182.8,1650),(183.4,1720),(184.0,1690),(184.6,1760),(185.2,1730),(185.8,1800),(186.4,1780),(187.0,1840),(187.6,1800),(188.2,1860),(188.8,1820),(189.4,1880),(190.0,1840),(190.6,1870),(191.2,1830),(191.8,1890),(192.4,1860),(193.0,1910),(193.6,1880),(194.2,1920),(194.8,1880),(195.4,1910),(196.0,1860),(196.5,1850),(196.9,2650),(197.2,1900),(197.8,1850),(198.4,1880),(199.0,1910),(199.6,1870),(200.2,1900),(200.8,1850),(201.4,1880),(202.0,1840),(202.6,1780),(203.2,1660),(203.8,1640),(204.4,1700),(205.0,1760),(205.6,1830),(206.2,1880),(206.8,1920),(207.4,1860),(208.0,1760),(208.6,1700),(209.2,1650),(209.8,1680),(210.4,1720),(211.0,1780),(211.6,1840),(212.2,1860),(212.8,1880),(213.4,1930),(214.0,1960),(214.6,1990),(215.2,2010),(215.8,2040),(216.4,2080),(217.0,2020),(217.6,2060),(218.2,2090),(218.8,1980),(219.4,1890),(220.0,1860),(220.6,1870),(221.2,1830),(221.8,1850),(222.4,1840),(223.0,1860),(223.6,1840),(224.2,1880),(224.8,1850),(225.4,1890),(226.0,1870),(226.6,1900),(227.2,1930),(227.8,2010),(228.4,1980),(229.0,1950),(229.6,1910),(230.2,1880),(230.8,1910),(231.4,1870),(232.0,1900),(232.7,2250),(233.2,1950),(233.8,1980),(234.4,1940),(235.0,2000),(235.6,2020),(236.2,1990),(236.8,1950),(237.4,1900),(238.0,1860),(238.6,1820),(239.2,1780),(239.8,1810),(240.4,1840),(241.0,1790),(241.6,1840),(242.2,1810),(242.8,1870),(243.4,1910),(244.0,1950),(244.6,1920),(245.2,1970),(245.8,1880),(246.4,2000),(246.8,2330),(247.3,2080),(247.9,1940),(248.5,1890),(249.1,1900),(249.7,1950),(250.4,2230),(250.9,1950),(251.5,1920),(252.1,1970),(252.7,1950),(253.3,2000),(253.9,2100),(254.4,2200),(254.9,1700),(255.5,1660),(256.1,1700),(256.7,1650),(257.3,1690),(257.9,1640),(258.5,1680),(259.1,1660),(259.7,1700),(260.3,1650),(260.9,1690),(261.5,1670),(262.1,1700),(262.7,1660),(263.3,1640),(263.9,1620),(264.5,1650),(265.1,1700),(265.7,1760),(266.3,1800),(266.9,1840),(267.5,1820),(268.1,1880),(268.7,1850),(269.3,1910),(269.9,1880),(270.5,1940),(271.1,1900),(271.7,1960),(272.3,1930),(272.9,2000),(273.5,2060),(274.1,2180),(274.7,2020),(275.3,1960),(275.9,2080),(276.5,1980),(277.1,2040),(277.7,1990),(278.3,2020),(278.9,2030),(279.5,2060),(280.1,2040),(280.7,2070),(281.3,2050),(282.0,2010),(283.0,2000),(289.4,2000)]

# S-wave velocity (m/s)
VS_PASS2 = [(55.4,990),(55.9,1000),(56.4,640),(56.9,420),(57.4,300),(57.9,260),(58.5,225),(59.0,212),(59.5,210),(60.0,215),(60.5,220),(61.0,235),(61.5,260),(62.0,285),(62.6,300),(63.1,310),(63.6,315),(64.1,330),(64.6,380),(65.1,480),(65.6,560),(66.2,660),(66.7,720),(67.2,790),(67.7,880),(68.2,940),(68.7,1000),(69.2,960),(69.7,920),(70.3,950),(70.8,980),(71.3,1000),(71.8,1000),(72.3,880),(72.8,800),(73.3,840),(73.8,740),(74.4,660),(74.9,590),(75.4,550),(75.9,520),(76.4,490),(76.9,510),(77.4,470),(77.9,450),(78.5,430),(79.0,440),(79.5,400),(80.0,370),(80.5,385),(81.0,350),(81.5,340),(82.0,360),(82.6,330),(83.1,350),(83.6,320),(84.1,340),(84.6,315),(85.1,335),(85.6,320),(86.1,345),(86.7,330),(87.2,310),(87.7,290),(88.2,270),(88.7,275),(89.2,310),(89.7,340),(90.3,360),(90.8,330),(91.3,370),(91.8,390),(92.3,360),(92.8,410),(93.3,380),(93.8,420),(94.4,390),(94.9,350),(95.4,330),(95.9,310),(96.4,330),(96.9,300),(97.4,320),(97.9,290),(98.5,300),(99.0,260),(99.5,210),(100.0,205),(100.5,240),(101.0,290),(101.5,320),(102.1,300),(102.6,340),(103.1,310),(103.6,360),(104.1,330),(104.6,380),(105.1,350),(105.6,440),(106.2,400),(106.7,360),(107.2,390),(107.7,350),(108.2,370),(108.7,410),(109.2,380),(109.7,420),(110.3,390),(110.8,430),(111.3,400),(111.8,380),(112.3,350),(112.8,420),(113.3,470),(113.8,440),(114.4,480),(114.9,430),(115.4,390),(115.9,330),(116.4,300),(116.9,320),(117.4,340),(117.9,400),(118.5,460),(119.0,520),(119.5,580),(120.0,620),(120.5,640),(121.0,400),(121.5,225),(122.1,260),(122.6,300),(123.1,280),(123.6,260),(124.1,280),(124.6,320),(125.1,300),(125.6,340),(126.2,320),(126.7,360),(127.2,390),(127.7,420),(128.2,450),(128.7,430),(129.2,480),(129.7,460),(130.3,510),(130.8,470),(131.3,500),(131.8,450),(132.3,520),(132.8,480),(133.3,530),(133.9,470),(134.4,510),(134.9,440),(135.4,400),(135.9,380),(136.4,450),(136.9,500),(137.4,420),(138.0,470),(138.5,520),(139.0,560),(139.5,500),(140.0,540),(140.5,470),(141.0,420),(141.6,350),(142.1,300),(142.6,330),(143.1,380),(143.6,420),(144.1,460),(144.6,490),(145.2,520),(145.7,560),(146.2,530),(146.7,500),(147.2,490),(147.7,510),(148.2,530),(148.7,500),(149.3,480),(149.8,470),(150.3,490),(150.8,460),(151.3,480),(151.8,500),(152.3,470),(152.9,490),(153.4,510),(153.9,480),(154.4,500),(154.9,520),(155.4,490),(155.9,510),(156.4,530),(157.0,500),(157.5,520),(158.0,540),(158.5,510),(159.0,530),(159.5,500),(160.0,520),(160.6,540),(161.1,510),(161.6,550),(162.1,520),(162.6,560),(163.1,530),(163.6,500),(164.2,540),(164.7,520),(165.2,560),(165.7,530),(166.2,570),(166.7,540),(167.2,580),(167.7,550),(168.3,600),(168.8,570),(169.3,620),(169.8,580),(170.3,640),(170.8,600),(171.4,660),(172.0,620),(172.4,560),(173.0,520),(173.6,480),(174.2,440),(174.8,400),(175.4,430),(176.0,470),(176.6,450),(177.2,410),(177.8,390),(178.4,360),(179.0,330),(179.6,320),(180.2,340),(180.6,370),(181.2,400),(181.7,860),(182.2,560),(182.8,450),(183.4,420),(184.0,500),(184.6,470),(185.2,560),(185.8,520),(186.4,600),(187.0,470),(187.6,430),(188.2,510),(188.8,570),(189.4,520),(190.0,600),(190.6,540),(191.2,480),(191.8,400),(192.4,350),(193.0,330),(193.6,360),(194.2,400),(194.8,440),(195.4,470),(196.0,450),(196.6,500),(197.2,480),(197.8,420),(198.4,380),(199.0,460),(199.6,540),(200.2,620),(200.8,680),(201.4,560),(202.0,480),(202.6,450),(203.2,400),(203.8,380),(204.4,340),(205.0,370),(205.6,420),(206.2,380),(206.8,350),(207.4,420),(208.0,480),(208.6,520),(209.2,480),(209.8,560),(210.4,520),(211.0,580),(211.6,540),(212.2,490),(212.8,530),(213.4,580),(214.0,620),(214.6,640),(215.2,600),(215.8,650),(216.4,630),(217.0,680),(217.6,720),(218.2,690),(218.8,600),(219.4,520),(220.0,400),(220.6,360),(221.2,380),(221.8,460),(222.4,520),(223.0,560),(223.6,520),(224.2,600),(224.8,560),(225.4,620),(226.0,590),(226.6,560),(227.2,520),(227.8,400),(228.4,320),(229.0,300),(229.6,340),(230.2,400),(230.8,440),(231.4,480),(232.0,520),(232.6,560),(233.2,500),(233.8,560),(234.4,620),(235.0,580),(235.6,640),(236.2,600),(236.8,540),(237.4,500),(238.0,520),(238.6,460),(239.2,440),(239.8,480),(240.4,540),(241.0,580),(241.6,560),(242.2,620),(242.8,640),(243.4,700),(244.0,680),(244.6,720),(245.2,690),(245.8,700),(246.4,680),(247.0,650),(247.6,620),(248.2,600),(248.8,640),(249.4,620),(250.0,660),(250.6,640),(251.2,680),(251.8,700),(252.4,680),(253.0,720),(253.6,800),(254.2,760),(254.8,710),(255.4,680),(256.0,700),(256.6,660),(257.2,640),(257.8,630),(258.4,650),(259.0,640),(259.6,620),(260.2,660),(260.8,640),(261.4,650),(262.0,640),(262.6,700),(263.2,850),(263.6,1000),(264.0,560),(264.6,470),(265.2,420),(265.8,380),(266.4,420),(267.0,400),(267.6,430),(268.2,500),(268.8,520),(269.4,470),(270.0,420),(270.6,430),(271.2,470),(271.8,520),(272.4,570),(273.0,640),(273.6,760),(274.0,880),(274.5,680),(275.0,560),(275.6,520),(276.2,500),(276.8,560),(277.4,680),(278.0,800),(278.4,1000),(279.0,1000)]

VS_PASS1 = [(78.0,340),(83.0,340),(83.6,335),(84.2,320),(84.8,340),(85.4,330),(86.0,350),(86.6,380),(87.1,590),(87.5,400),(88.0,360),(88.6,380),(89.2,340),(89.8,370),(90.4,390),(91.0,360),(91.6,400),(92.2,380),(92.8,420),(93.4,390),(94.0,360),(94.4,270),(95.2,270),(95.9,270),(96.2,380),(97.4,395),(98.6,400),(99.0,395),(99.5,300),(100.2,290),(100.8,300),(101.4,320),(102.0,300),(102.6,350),(103.2,320),(103.8,370),(104.4,340),(105.0,390),(105.6,360),(106.2,420),(106.8,380),(107.4,410),(108.0,370),(108.6,420),(109.2,390),(109.8,440),(110.4,410),(111.0,450),(111.6,420),(112.2,390),(112.8,450),(113.4,490),(114.0,460),(114.6,500),(115.2,470),(115.8,420),(116.4,330),(117.0,320),(117.6,360),(118.2,430),(118.8,500),(119.4,560),(120.0,590),(120.6,580),(121.2,390),(121.8,380),(122.4,340),(123.0,300),(123.6,280),(124.2,290),(124.8,320),(125.4,330),(126.0,350),(126.6,380),(127.2,400),(127.8,430),(128.4,460),(129.0,440),(129.6,490),(130.2,470),(130.8,500),(131.4,480),(132.0,520),(132.6,490),(133.2,540),(133.8,490),(134.4,520),(135.0,450),(135.6,410),(136.2,400),(136.8,470),(137.4,440),(138.0,490),(138.6,540),(139.2,560),(139.6,590),(140.2,580),(140.8,420),(141.4,380),(142.0,340),(142.6,350),(143.2,400),(143.8,620),(144.4,610),(145.0,460),(145.6,550),(146.2,360),(146.8,470),(147.4,500),(148.0,520),(148.6,490),(149.2,470),(149.8,490),(150.4,480),(151.0,470),(151.6,500),(152.2,480),(152.8,500),(153.4,520),(154.0,490),(154.6,510),(155.2,530),(155.8,500),(156.4,520),(157.0,500),(157.6,530),(158.2,510),(158.8,540),(159.4,510),(160.0,530),(160.6,520),(161.2,550),(161.8,520),(162.4,540),(163.0,520),(163.6,510),(164.2,530),(164.8,520),(165.4,550),(166.0,540),(166.6,560),(167.2,540),(167.8,560),(168.2,250),(172.4,250),(172.4,205),(177.6,205),(177.6,260),(178.6,260),(178.6,310),(180.0,310),(180.0,330),(181.5,330),(181.5,265),(183.7,265),(184.2,450),(184.8,490),(185.4,540),(186.0,580),(186.6,500),(187.2,450),(187.8,500),(188.4,560),(189.0,510),(189.6,580),(190.2,530),(190.8,470),(191.4,420),(192.0,370),(192.6,340),(193.2,350),(193.8,390),(194.4,420),(195.0,460),(195.6,440),(196.2,490),(196.8,470),(197.4,410),(198.0,370),(198.6,440),(199.2,520),(199.8,600),(200.4,660),(201.0,580),(201.6,500),(202.2,460),(202.8,420),(203.4,390),(204.0,330),(204.6,360),(205.2,410),(205.8,380),(206.4,340),(207.0,410),(207.6,470),(208.2,500),(208.8,470),(209.4,540),(210.0,500),(210.6,560),(211.2,530),(211.8,480),(212.4,520),(213.0,570),(213.6,610),(214.2,630),(214.8,590),(215.4,640),(216.0,620),(216.6,670),(217.2,690),(217.8,660),(218.4,620),(219.0,560),(219.6,420),(220.2,380),(220.8,390),(221.4,450),(222.0,500),(222.6,550),(223.2,510),(223.8,590),(224.4,550),(225.0,610),(225.6,580),(226.2,550),(226.8,510),(227.4,420),(228.0,330),(228.6,310),(229.2,330),(229.8,390),(230.4,430),(231.0,470),(231.6,510),(232.2,560),(232.8,650),(233.4,540),(234.0,580),(234.6,600),(235.2,570),(235.8,620),(236.4,590),(237.0,530),(237.6,490),(238.2,500),(238.8,450),(239.4,430),(240.0,470),(240.6,530),(241.2,570),(241.8,580),(242.4,640),(243.0,660),(243.6,720),(244.2,690),(244.8,730),(245.4,700),(246.0,720),(246.6,690),(247.2,720),(247.8,740),(248.4,700),(249.0,720),(249.6,680),(250.2,700),(250.8,670),(251.4,710),(252.0,740),(252.6,700),(253.2,730),(253.8,690),(254.4,720),(255.0,690),(255.6,670),(256.2,640),(256.8,620),(257.4,600),(258.0,630),(258.6,610),(259.2,640),(259.8,620),(260.4,650),(261.0,630),(261.6,660),(262.2,700),(262.8,730),(263.4,720),(264.0,520),(264.6,350),(265.2,330),(265.8,340),(266.4,380),(267.0,360),(267.6,400),(268.2,420),(268.8,360),(269.4,330),(270.0,370),(270.6,400),(271.2,440),(271.8,490),(272.4,540),(273.0,600),(273.6,700),(274.0,780),(274.5,620),(275.0,520),(275.6,470),(276.2,450),(276.8,500),(277.4,600),(278.0,700),(278.4,760),(279.0,850),(279.4,955),(289.4,955)]

# Axis scales
GR_RANGE = [20, 80]
GR_TICKS = [35, 50, 65]
RES_RANGE = [0.5, 15]
RES_GRID = [0.6, 0.7, 0.8, 0.9, 1, 2, 3, 4, 5, 6, 7, 8, 9, 10]
VP_RANGE = [1500, 3000]
VP_TICKS = [1750, 2000, 2250, 2500, 2750]
VS_RANGE = [200, 1000]
VS_TICKS = [400, 600, 800]

# ---------------- STYLE ----------------
W, H = 743, 885
FONT = "Liberation Sans, Arial, Helvetica, sans-serif"
RED = "#ff1414"
OCHRE = "#c99a12"
BLUE_RES = "#1010f0"
BLUE_V = "#1547c9"
GREEN = "#1fc43b"
INK = "#1a1a1a"
LW = 1.4

TOP_PX, BOT_PX = 122, 883
PANEL_PX = {
    "core": (1, 97), "gr": (144, 287), "res": (287, 431),
    "vp": (431.5, 577), "vs": (577, 723), "unit": (723, 742),
}


def fx(px):
    return px / W


def fy(py):
    return 1 - py / H


YDOM = [fy(BOT_PX), fy(TOP_PX)]

fig = go.Figure()


def unzip(pairs):
    d = [p[0] for p in pairs]
    v = [p[1] for p in pairs]
    return d, v


def curve(pairs, color, xa, ya, width=LW):
    d, v = unzip(pairs)
    fig.add_trace(go.Scatter(x=v, y=d, mode="lines", line=dict(color=color, width=width),
                             xaxis=xa, yaxis=ya, hoverinfo="skip", showlegend=False))


def intervals(col, tops, bots, fill, lw, xa="x", ya="y"):
    fig.add_trace(go.Bar(x=[col] * len(tops), y=[b - t for t, b in zip(tops, bots)], base=tops,
                         width=1, marker=dict(color=fill, line=dict(color="black", width=lw)),
                         xaxis=xa, yaxis=ya, hoverinfo="skip", showlegend=False))


# ---- core columns ----
intervals(0.5, CORE_C_TOP, CORE_C_BOT, "white", 1)
intervals(1.5, CORE_C_TOP, CORE_C_BOT, "white", 1)
intervals(2.5, CORE_D_TOP, CORE_D_BOT, "white", 1)
intervals(3.5, CORE_D_TOP, CORE_D_BOT, "white", 1)
intervals(1.5, REC_C_TOP, REC_C_BOT, "black", 0)
intervals(3.5, CORE_D_TOP, REC_D_BOT, "black", 0)
fig.add_trace(go.Scatter(x=[0.5] * len(CORE_C_NAMES),
                         y=[(t + b) / 2 for t, b in zip(CORE_C_TOP, CORE_C_BOT)],
                         text=CORE_C_NAMES, mode="text", textfont=dict(size=9.5, color=INK, family=FONT),
                         xaxis="x", yaxis="y", hoverinfo="skip", showlegend=False, cliponaxis=False))
fig.add_trace(go.Scatter(x=[2.5] * len(CORE_D_NAMES),
                         y=[(t + b) / 2 for t, b in zip(CORE_D_TOP, CORE_D_BOT)],
                         text=CORE_D_NAMES, mode="text", textfont=dict(size=9.5, color=INK, family=FONT),
                         xaxis="x", yaxis="y", hoverinfo="skip", showlegend=False))

# ---- logs ----
curve(GR_PASS1, RED, "x2", "y2")
curve(GR_PASS2, OCHRE, "x2", "y2")
curve(RES_DEEP, RED, "x3", "y3")
curve(RES_MEDIUM, BLUE_RES, "x3", "y3")
curve(RES_SFLU, GREEN, "x3", "y3")
curve(VP_PASS1, RED, "x4", "y4")
curve(VP_PASS2, BLUE_V, "x4", "y4")
curve(VS_PASS1, RED, "x5", "y5")
curve(VS_PASS2, BLUE_V, "x5", "y5")

# ---- logging units ----
intervals(0.5, UNIT_TOP, UNIT_BOT, "white", 1, "x6", "y6")
fig.add_trace(go.Scatter(x=[0.55] * len(UNIT_NAMES), y=UNIT_LABEL_DEPTH, text=UNIT_NAMES, mode="text",
                         textfont=dict(size=12, color=INK, family=FONT), xaxis="x6", yaxis="y6",
                         hoverinfo="skip", showlegend=False))

# ---------------- AXES ----------------
yax_common = dict(range=DEPTH_RANGE, domain=YDOM, showline=True, linecolor="black", linewidth=1,
                  mirror=True, showgrid=False, zeroline=False, fixedrange=True)
inner_ticks = dict(ticks="outside", tickcolor="black", ticklen=7, tickwidth=1, tick0=0, dtick=50,
                   showticklabels=False, side="left",
                   minor=dict(ticks="outside", dtick=10, tick0=0, ticklen=4, tickcolor="black", tickwidth=1))

layout = dict(
    width=W, height=H, margin=dict(l=0, r=0, t=0, b=0), paper_bgcolor="white", plot_bgcolor="white",
    barmode="overlay", showlegend=False, font=dict(family=FONT, color=INK, size=12),
)

layout["xaxis"] = dict(domain=[fx(PANEL_PX["core"][0]), fx(PANEL_PX["core"][1])], range=[0, 4],
                       tickvals=[1, 2, 3], showticklabels=False, ticks="", showgrid=True,
                       gridcolor="black", gridwidth=1, showline=True, linecolor="black", mirror=True,
                       zeroline=False, fixedrange=True, anchor="y")
layout["yaxis"] = dict(yax_common, anchor="x", ticks="", showticklabels=False)

layout["xaxis2"] = dict(domain=[fx(PANEL_PX["gr"][0]), fx(PANEL_PX["gr"][1])], range=GR_RANGE,
                        tickvals=GR_TICKS, ticks="inside", ticklen=4, tickcolor="black", mirror="ticks",
                        showticklabels=False, showline=True, linecolor="black", showgrid=False,
                        zeroline=False, fixedrange=True, anchor="y2")
layout["yaxis2"] = dict(yax_common, anchor="x2", side="left", ticks="outside", ticklen=5, tickcolor="black",
                        tick0=0, dtick=50, showticklabels=True, tickfont=dict(size=10, color=INK),
                        minor=dict(ticks="outside", dtick=10, tick0=0, ticklen=3, tickcolor="black"))

layout["xaxis3"] = dict(domain=[fx(PANEL_PX["res"][0]), fx(PANEL_PX["res"][1])], type="log",
                        range=[-0.30103, 1.17609], tickvals=RES_GRID, ticks="", showticklabels=False,
                        showgrid=True, gridcolor="#c6c6c6", gridwidth=1.5, showline=True,
                        linecolor="black", mirror=True, zeroline=False, fixedrange=True, anchor="y3")
layout["yaxis3"] = dict(yax_common, anchor="x3", **inner_ticks)

layout["xaxis4"] = dict(domain=[fx(PANEL_PX["vp"][0]), fx(PANEL_PX["vp"][1])], range=VP_RANGE,
                        tickvals=VP_TICKS, ticks="inside", ticklen=4, tickcolor="black", mirror="ticks",
                        showticklabels=False, showline=True, linecolor="black", showgrid=False,
                        zeroline=False, fixedrange=True, anchor="y4")
layout["yaxis4"] = dict(yax_common, anchor="x4", **inner_ticks)

layout["xaxis5"] = dict(domain=[fx(PANEL_PX["vs"][0]), fx(PANEL_PX["vs"][1])], range=VS_RANGE,
                        tickvals=VS_TICKS, ticks="inside", ticklen=4, tickcolor="black", mirror="ticks",
                        showticklabels=False, showline=True, linecolor="black", showgrid=False,
                        zeroline=False, fixedrange=True, anchor="y5")
layout["yaxis5"] = dict(yax_common, anchor="x5", **inner_ticks)

layout["xaxis6"] = dict(domain=[fx(PANEL_PX["unit"][0]), fx(PANEL_PX["unit"][1])], range=[0, 1],
                        showticklabels=False, ticks="", showgrid=False, showline=False,
                        zeroline=False, fixedrange=True, anchor="y6")
layout["yaxis6"] = dict(yax_common, anchor="x6", **inner_ticks)
layout["yaxis6"]["linewidth"] = 2
layout["yaxis6"]["mirror"] = False

fig.update_layout(**layout)

# ---------------- HEADER ----------------
anns = []
shapes = []


def text(t, xpx, ypx, color=INK, size=12, xanchor="center", angle=0, yanchor="middle"):
    anns.append(dict(text=t, x=fx(xpx), y=fy(ypx), xref="paper", yref="paper", showarrow=False,
                     xanchor=xanchor, yanchor=yanchor, textangle=angle,
                     font=dict(size=size, color=color, family=FONT)))


def hline(x0, x1, ypx, color, w=1.5):
    shapes.append(dict(type="line", xref="paper", yref="paper", x0=fx(x0), x1=fx(x1),
                       y0=fy(ypx), y1=fy(ypx), line=dict(color=color, width=w)))


def vbar(xpx, y0, y1):
    shapes.append(dict(type="line", xref="paper", yref="paper", x0=fx(xpx), x1=fx(xpx),
                       y0=fy(y0), y1=fy(y1), line=dict(color="#333333", width=1.6)))


ROWS = {"sflu": (25, 33.3, 40.5, 18, 47), "p2": (60, 68.2, 75, 53, 82), "p1": (94.5, 102.6, 109, 88, 115)}


def header(panel, row, title, color, lo, unit, hi):
    x0, x1 = PANEL_PX[panel]
    ty, ly, sy, b0, b1 = ROWS[row]
    text(title, (x0 + x1) / 2, ty, color)
    hline(x0 + 1, x1 - 1, ly, color)
    text(lo, x0 + 2, sy, color, xanchor="left")
    text(unit, (x0 + x1) / 2, sy, color)
    text(hi, x1 - 1, sy, color, xanchor="right")
    vbar(x0, b0, b1)
    vbar(x1, b0, b1)


text("Resistivity", (PANEL_PX["res"][0] + PANEL_PX["res"][1]) / 2, 8)
header("res", "sflu", "SFLU", GREEN, "0.5", "<b>(Ωm)</b>", "15")
header("gr", "p2", "Gamma ray pass 2", OCHRE, "20", "(gAPI)", "80")
header("gr", "p1", "Gamma ray pass 1", RED, "20", "(gAPI)", "80")
header("res", "p2", "Medium induction", BLUE_RES, "0.5", "<b>(Ωm)</b>", "15")
header("res", "p1", "Deep induction", RED, "0.5", "<b>(Ωm)</b>", "15")
header("vp", "p2", "<i>V</i><sub>P</sub> pass 2", BLUE_V, "1500", "(m/s)", "3000")
header("vp", "p1", "<i>V</i><sub>P</sub> pass 1", RED, "1500", "(m/s)", "3000")
header("vs", "p2", "<i>V</i><sub>S</sub> pass 2", BLUE_V, "200", "(m/s)", "1000")
header("vs", "p1", "<i>V</i><sub>S</sub> pass 1", RED, "200", "(m/s)", "1000")

text("Logging unit", 734, 111, angle=-90, yanchor="bottom", size=11.5)
text("Depth (mbsf)", 123, 112, angle=-90, yanchor="bottom", size=12)
text("Hole", 26, 32, size=11.5)
text("U1326C", 26, 46.5, size=11.5)
text("Hole", 73, 32, size=11.5)
text("U1326D", 73, 46.5, size=11.5)
text("Core", 16, 111, angle=-90, yanchor="bottom", size=11)
text("Recovery", 36, 111, angle=-90, yanchor="bottom", size=11)
text("Core", 62, 111, angle=-90, yanchor="bottom", size=11)
text("Recovery", 85, 111, angle=-90, yanchor="bottom", size=11)

fig.update_layout(annotations=anns, shapes=shapes)

# The page body has a default 8px margin; remove it so the figure fills the window.
fig.write_html("out.html", config={"displayModeBar": False},
               post_script="document.body.style.margin='0';document.body.style.overflow='hidden';")
